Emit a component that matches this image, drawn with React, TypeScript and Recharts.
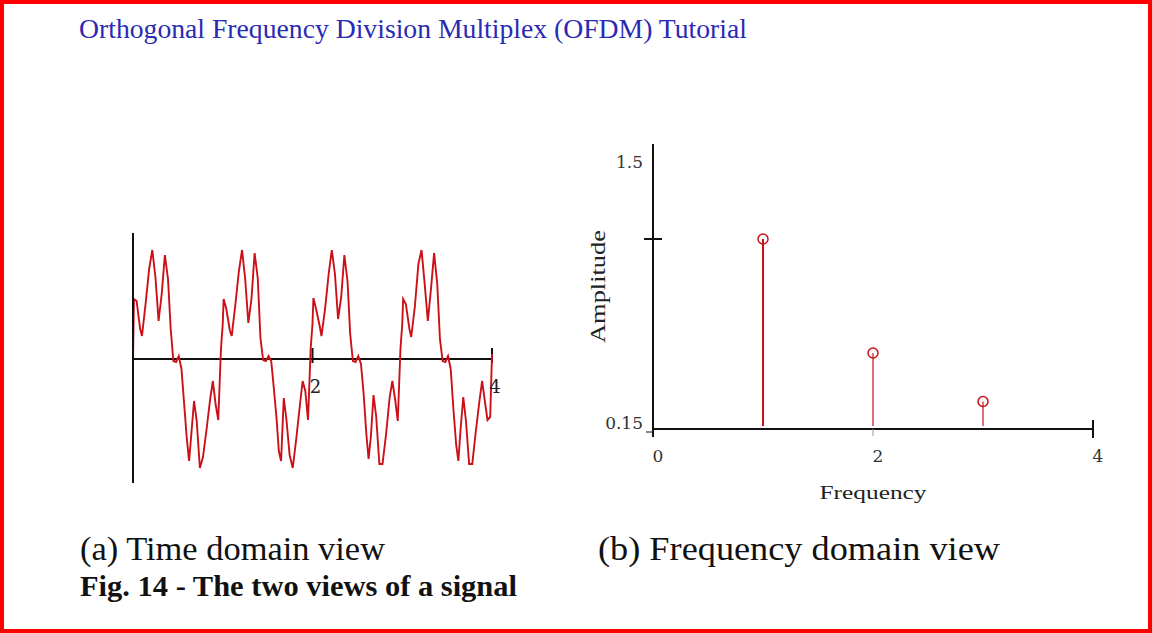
import {
  Bar,
  ComposedChart,
  Label,
  Line,
  LineChart,
  ReferenceLine,
  Scatter,
  XAxis,
  YAxis,
} from "recharts";

// time-domain trace: phase offsets inside one period, then one list per period
const PHASES = [
  0, 0.01, 0.04, 0.08, 0.1, 0.14, 0.18, 0.215, 0.25, 0.285, 0.32, 0.355, 0.39,
  0.42, 0.45, 0.48, 0.51, 0.54, 0.57, 0.6, 0.625, 0.65, 0.68, 0.71, 0.745, 0.78,
  0.82, 0.86, 0.89, 0.92, 0.95, 0.98,
];
const CYCLE_1 = [
  0, 0.6, 0.58, 0.3, 0.23, 0.55, 0.9, 1.09, 0.82, 0.38, 0.65, 1.04, 0.8, 0.3,
  -0.02, -0.03, 0.03, -0.1, -0.45, -0.8, -1.02, -0.75, -0.42, -0.62, -1.09,
  -0.98, -0.7, -0.4, -0.22, -0.45, -0.61, 0.1,
];
const CYCLE_2 = [
  0.35, 0.6, 0.5, 0.28, 0.23, 0.54, 0.88, 1.09, 0.8, 0.36, 0.6, 1.06, 0.81,
  0.21, -0.01, -0.02, 0.03, -0.02, -0.3, -0.6, -0.92, -1.02, -0.39, -0.61,
  -0.96, -1.09, -0.79, -0.46, -0.22, -0.32, -0.61, 0.11,
];
const CYCLE_3 = [
  0.35, 0.61, 0.5, 0.33, 0.23, 0.5, 0.85, 1.09, 0.85, 0.4, 0.62, 1.04, 0.78,
  0.25, -0.02, -0.03, 0.03, -0.05, -0.35, -0.75, -1.0, -0.78, -0.36, -0.58,
  -1.05, -1.05, -0.75, -0.38, -0.22, -0.4, -0.62, 0.1,
];
const CYCLE_4 = [
  0.35, 0.6, 0.55, 0.3, 0.22, 0.52, 0.95, 1.09, 0.75, 0.38, 0.7, 1.06, 0.75,
  0.2, -0.02, -0.03, 0.03, -0.1, -0.5, -0.85, -1.02, -0.7, -0.38, -0.62, -1.05,
  -1.05, -0.72, -0.42, -0.22, -0.42, -0.61, -0.58,
];
const END_TIME = 4;
const END_VALUE = 0.05;

// frequency-domain stems
const FREQUENCIES = [1, 2, 3];
const AMPLITUDES = [1.05, 0.51, 0.28];

const TIME_TICKS = [2, 4];
const FREQ_TICKS = [0, 2, 4];
const AMP_TICKS = [0.15, 1.05, 1.5];

const signalData = [CYCLE_1, CYCLE_2, CYCLE_3, CYCLE_4]
  .flatMap((cycle, c) => cycle.map((v, k) => ({ t: c + PHASES[k], v })))
  .concat({ t: END_TIME, v: END_VALUE });

const stemData = FREQUENCIES.map((freq, i) => ({ freq, amp: AMPLITUDES[i] }));
const STEM_WIDTHS = [2, 1.2, 1.2];

const RED = "#cc1018";
const AXIS = "#111";
const NUM_FONT = "'DejaVu Serif', serif";
const SERIF = "'Liberation Serif', 'Times New Roman', serif";

const FreqTick = (props: any) => {
  const { x, y, payload } = props;
  const v = payload.value;
  return (
    <g>
      {v === 0 && <line x1={x} y1={y} x2={x} y2={y + 8} stroke={AXIS} strokeWidth={2} />}
      {v === 2 && <line x1={x} y1={y} x2={x} y2={y + 7} stroke="#999" strokeWidth={1} />}
      {v === 4 && <line x1={x} y1={y - 9} x2={x} y2={y + 9} stroke={AXIS} strokeWidth={2} />}
      <text x={x + 5} y={y + 33} textAnchor="middle" fontSize={17} fontFamily={NUM_FONT} fill="#333">
        {v}
      </text>
    </g>
  );
};

const AmpTick = (props: any) => {
  const { x, y, payload } = props;
  const v = payload.value;
  if (v === 1.5) {
    return (
      <text x={x - 10} y={y + 24} textAnchor="end" fontSize={17} fontFamily={NUM_FONT} fill="#333">
        1.5
      </text>
    );
  }
  if (v === 0.15) {
    return (
      <g>
        <line x1={x - 7} y1={y + 3} x2={x} y2={y + 3} stroke={AXIS} strokeWidth={1} />
        <text x={x - 10} y={y} textAnchor="end" fontSize={17} fontFamily={NUM_FONT} fill="#333">
          0.15
        </text>
      </g>
    );
  }
  return <line x1={x - 9} y1={y} x2={x + 9} y2={y} stroke={AXIS} strokeWidth={2} />;
};

const FreqTitle = (props: any) => {
  const { x, y, width } = props.viewBox;
  return (
    <text x={x + width / 2} y={y + 70} textAnchor="middle" fontSize={18} fontFamily={SERIF} fill="#222" textLength={107} lengthAdjust="spacingAndGlyphs">
      Frequency
    </text>
  );
};

const AmpTitle = (props: any) => {
  const { x, y, height } = props.viewBox;
  const cx = x - 47;
  const cy = y + height / 2;
  return (
    <text x={cx} y={cy} textAnchor="middle" fontSize={21} fontFamily={SERIF} fill="#222" transform={`rotate(-90 ${cx} ${cy})`} textLength={113} lengthAdjust="spacingAndGlyphs">
      Amplitude
    </text>
  );
};

const Stem = (props: any) => {
  const { x, y, width, height, index } = props;
  const cx = x + width / 2;
  return <line x1={cx} y1={y} x2={cx} y2={y + height - 3} stroke={RED} strokeWidth={STEM_WIDTHS[index]} />;
};

const Ring = (props: any) => (
  <circle cx={props.cx} cy={props.cy} r={5} fill="none" stroke={RED} strokeWidth={1.5} />
);

export default function App() {
  return (
    <div
      style={{
        position: "absolute",
        left: 0,
        top: 0,
        width: 1152,
        height: 633,
        boxSizing: "border-box",
        border: "4px solid #f00",
        background: "#fff",
      }}
    >
      <svg width={1152} height={633} style={{ position: "absolute", left: -4, top: -4 }}>
        <text x={79} y={38} fontSize={27} fontFamily={SERIF} fill="#2a2ab4" textLength={668} lengthAdjust="spacingAndGlyphs">
          Orthogonal Frequency Division Multiplex (OFDM) Tutorial
        </text>
        <text x={80} y={560} fontSize={34} fontFamily={SERIF} fill="#111" textLength={305} lengthAdjust="spacingAndGlyphs">
          (a) Time domain view
        </text>
        <text x={598} y={560} fontSize={34} fontFamily={SERIF} fill="#111" textLength={402} lengthAdjust="spacingAndGlyphs">
          (b) Frequency domain view
        </text>
        <text x={80} y={596} fontSize={29} fontWeight="bold" fontFamily={SERIF} fill="#111" textLength={437} lengthAdjust="spacingAndGlyphs">
          Fig. 14 - The two views of a signal
        </text>
      </svg>

      <div style={{ position: "absolute", left: 109, top: 209 }}>
        <LineChart width={399} height={290} data={signalData} margin={{ top: 20, right: 20, bottom: 20, left: 20 }}>
          <XAxis type="number" dataKey="t" domain={[0, 4]} hide />
          <YAxis
            type="number"
            domain={[-1.24, 1.26]}
            mirror
            width={1}
            ticks={[0]}
            tick={false}
            tickSize={9}
            tickLine={{ stroke: AXIS, strokeWidth: 3 }}
            axisLine={{ stroke: AXIS, strokeWidth: 2 }}
          />
          <ReferenceLine y={0} stroke={AXIS} strokeWidth={2} />
          {TIME_TICKS.map((t) => (
            <ReferenceLine
              key={t}
              segment={[
                { x: t, y: -0.04 },
                { x: t, y: 0.11 },
              ]}
              stroke={AXIS}
              strokeWidth={2}
              label={{ value: String(t), position: "bottom", offset: 17, dx: 3, fontSize: 18, fontFamily: NUM_FONT, fill: "#222" }}
            />
          ))}
          <Line dataKey="v" type="linear" stroke={RED} strokeWidth={1.9} dot={false} isAnimationActive={false} />
        </LineChart>
      </div>

      <div style={{ position: "absolute", left: 569, top: 120 }}>
        <ComposedChart width={550} height={396} data={stemData} margin={{ top: 20, right: 30, bottom: 90, left: 79 }}>
          <XAxis
            type="number"
            dataKey="freq"
            domain={[0, 4]}
            ticks={FREQ_TICKS}
            height={1}
            tickSize={0}
            tickMargin={0}
            tickLine={false}
            tick={<FreqTick />}
            axisLine={{ stroke: AXIS, strokeWidth: 2 }}
          >
            <Label content={<FreqTitle />} />
          </XAxis>
          <YAxis
            type="number"
            dataKey="amp"
            domain={[0.15, 1.5]}
            ticks={AMP_TICKS}
            width={1}
            tickSize={0}
            tickMargin={0}
            tickLine={false}
            tick={<AmpTick />}
            axisLine={{ stroke: AXIS, strokeWidth: 2 }}
          >
            <Label content={<AmpTitle />} />
          </YAxis>
          <Bar dataKey="amp" barSize={4} shape={<Stem />} isAnimationActive={false} />
          <Scatter dataKey="amp" shape={<Ring />} isAnimationActive={false} />
        </ComposedChart>
      </div>
    </div>
  );
}
